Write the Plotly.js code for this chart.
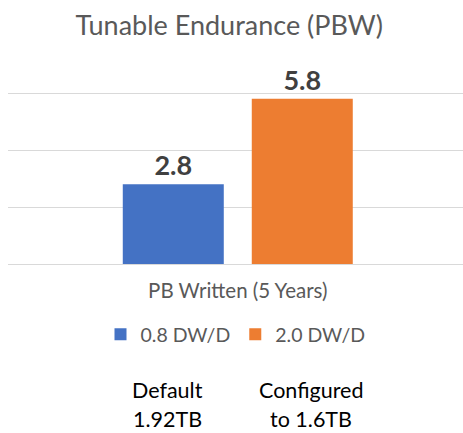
<!DOCTYPE html>
<html>
<head>
<meta charset="utf-8">
<script src="https://cdn.plot.ly/plotly-3.0.1.min.js"></script>
<style>html,body{margin:0;padding:0;background:#fff;}#chart{width:463px;height:433px;}</style>
</head>
<body>
<div id="chart"></div>
<script>
const categories = ["PB Written (5 Years)"];
const seriesNames = ["0.8 DW/D", "2.0 DW/D"];
const seriesValues = [[2.8], [5.8]];
const seriesColors = ["#4472C4", "#ED7D31"];
const noteLines = [["Default", "1.92TB"], ["Configured", "to 1.6TB"]];
const noteX = [0.35, 0.665];

const FONT = "Lato, 'Open Sans', sans-serif";

const traces = seriesNames.map((name, i) => ({
  type: "bar",
  name: name,
  x: categories,
  y: seriesValues[i],
  marker: {color: seriesColors[i]},
  text: seriesValues[i].map(v => v.toFixed(1)),
  textposition: "outside",
  cliponaxis: false,
  textfont: {family: FONT, size: 27, color: "#404040", weight: "bold"},
  hoverinfo: "skip"
}));

const annotations = [];
noteLines.forEach((lines, i) => {
  lines.forEach((t, j) => {
    annotations.push({
      text: t, showarrow: false, xref: "paper", yref: "paper",
      x: noteX[i], y: j === 0 ? -0.73 : -0.985, xanchor: "center", yanchor: j === 0 ? "middle" : "bottom",
      borderpad: 0,
      font: {family: FONT, size: 21.5, color: "#000000"}
    });
  });
});

const layout = {
  width: 463, height: 433,
  margin: {l: 8, r: 0, t: 92, b: 169, pad: 0},
  paper_bgcolor: "#ffffff", plot_bgcolor: "#ffffff",
  title: {text: "Tunable Endurance (PBW)", x: 0.495, xanchor: "center", y: 0.94, yanchor: "middle",
          font: {family: FONT, size: 27, color: "#595959"}},
  barmode: "group", bargap: 0.433, bargroupgap: 0.217,
  xaxis: {showgrid: false, showline: false, ticks: "", ticklabelstandoff: 12, range: [-0.505, 0.495],
          tickfont: {family: FONT, size: 20.5, color: "#595959"}},
  yaxis: {range: [0, 6.04], dtick: 2, showticklabels: false, showgrid: true, gridcolor: "#D9D9D9",
          gridwidth: 1, zeroline: true, zerolinecolor: "#D9D9D9", zerolinewidth: 1, fixedrange: true},
  showlegend: true,
  legend: {orientation: "h", x: 0.5, xanchor: "center", y: -0.41, yanchor: "middle",
           font: {family: FONT, size: 19.5, color: "#595959"}, itemwidth: 30, traceorder: "normal"},
  annotations: annotations
};

Plotly.newPlot("chart", traces, layout, {displayModeBar: false, staticPlot: true});
</script>
</body>
</html>
